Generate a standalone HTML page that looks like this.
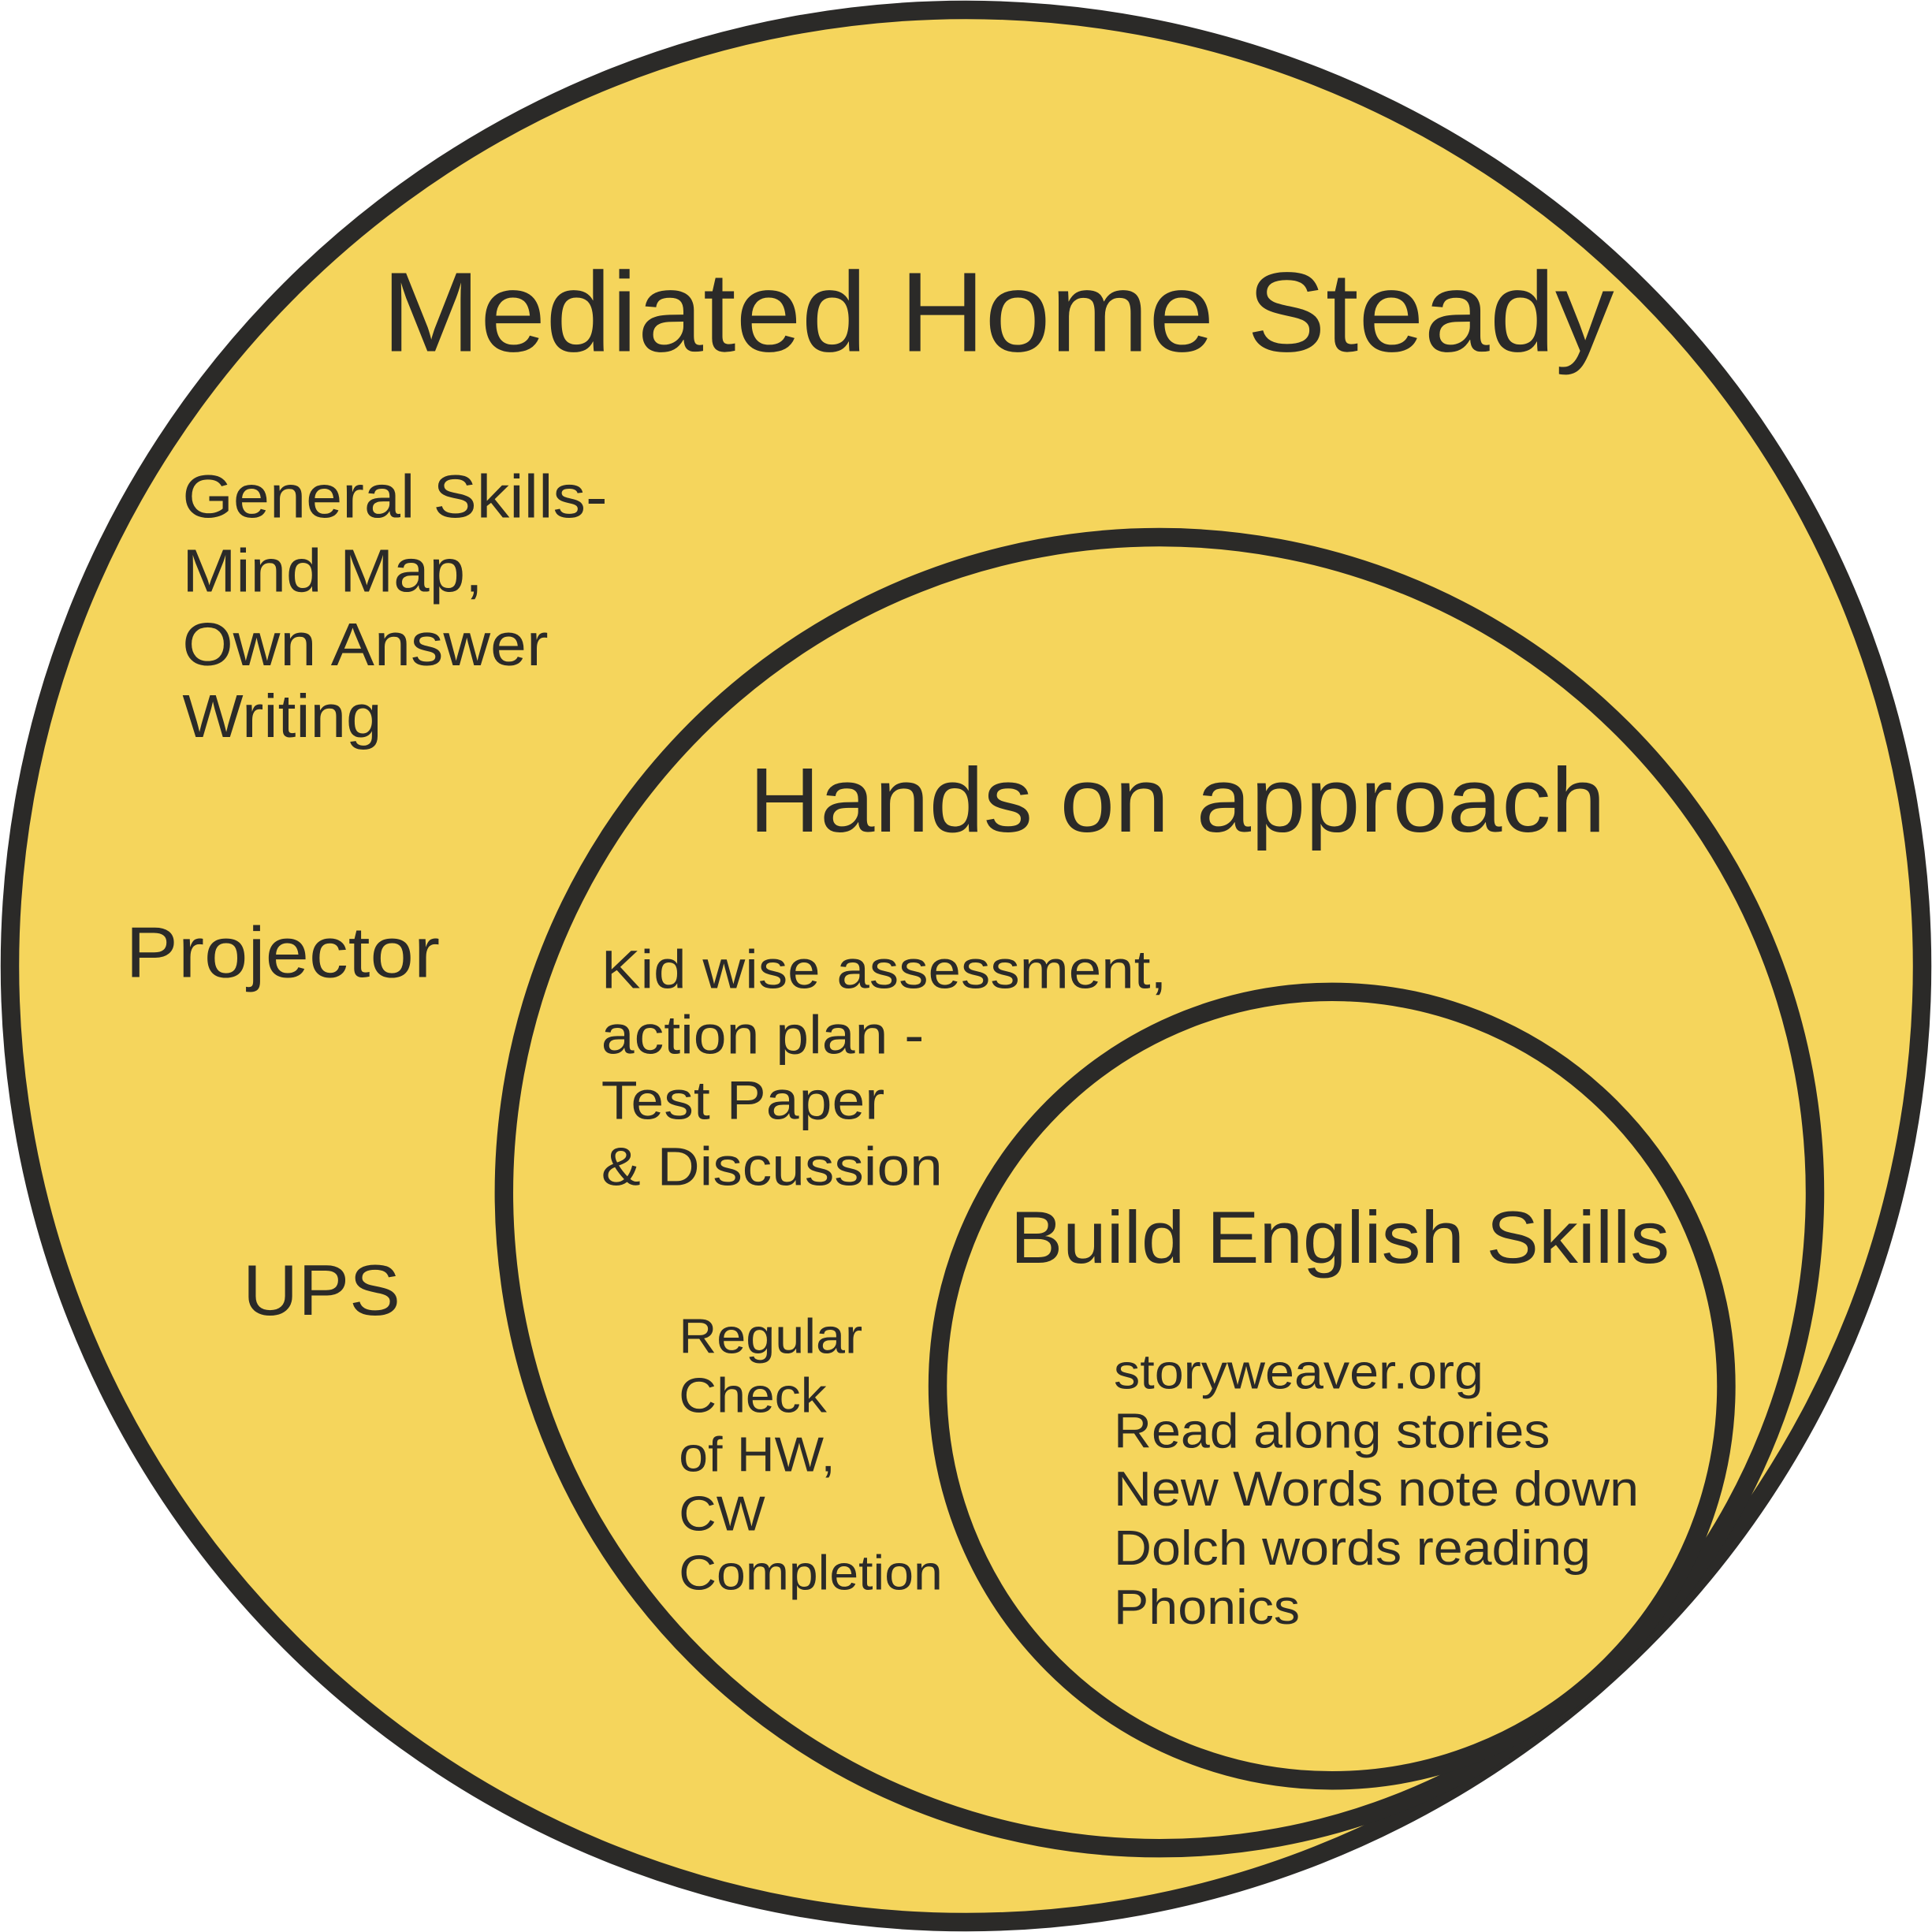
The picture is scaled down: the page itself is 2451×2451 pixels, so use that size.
<!DOCTYPE html>
<html><head><meta charset="utf-8"><style>html,body{margin:0;padding:0;background:#fff}svg{display:block}</style></head>
<body>
<svg width="2451" height="2451" viewBox="0 0 1568 1568" xmlns="http://www.w3.org/2000/svg" font-family="Liberation Sans, Arial, sans-serif" fill="#2b2a28">
<circle cx="784" cy="784" r="776" fill="#f5d55c" stroke="#2b2a28" stroke-width="15"/>
<circle cx="941" cy="968" r="532" fill="#f5d55c" stroke="#2b2a28" stroke-width="15"/>
<circle cx="1081" cy="1125" r="320" fill="#f5d55c" stroke="#2b2a28" stroke-width="15"/>
<text x="310" y="285" font-size="92" textLength="1000" lengthAdjust="spacingAndGlyphs">Mediated Home Steady</text>
<text x="608" y="675" font-size="74" textLength="695" lengthAdjust="spacingAndGlyphs">Hands on approach</text>
<text x="820" y="1025" font-size="60" textLength="535" lengthAdjust="spacingAndGlyphs">Build English Skills</text>
<g font-size="49" lengthAdjust="spacingAndGlyphs">
<text x="148" y="420" textLength="345" lengthAdjust="spacingAndGlyphs">General Skills-</text>
<text x="148" y="480" textLength="244" lengthAdjust="spacingAndGlyphs">Mind Map,</text>
<text x="148" y="540" textLength="297" lengthAdjust="spacingAndGlyphs">Own Answer</text>
<text x="148" y="598" textLength="162" lengthAdjust="spacingAndGlyphs">Writing</text>
</g>
<text x="102" y="793" font-size="58" textLength="255" lengthAdjust="spacingAndGlyphs">Projector</text>
<text x="197" y="1067" font-size="58" textLength="128" lengthAdjust="spacingAndGlyphs">UPS</text>
<g font-size="44">
<text x="488" y="802" textLength="459" lengthAdjust="spacingAndGlyphs">Kid wise assessment,</text>
<text x="488" y="855" textLength="262" lengthAdjust="spacingAndGlyphs">action plan -</text>
<text x="488" y="908" textLength="230" lengthAdjust="spacingAndGlyphs">Test Paper</text>
<text x="488" y="962" textLength="277" lengthAdjust="spacingAndGlyphs">&amp; Discussion</text>
</g>
<g font-size="40">
<text x="551" y="1098" textLength="149" lengthAdjust="spacingAndGlyphs">Regular</text>
<text x="551" y="1146" textLength="120" lengthAdjust="spacingAndGlyphs">Check</text>
<text x="551" y="1194" textLength="127" lengthAdjust="spacingAndGlyphs">of HW,</text>
<text x="551" y="1242" textLength="70" lengthAdjust="spacingAndGlyphs">CW</text>
<text x="551" y="1290" textLength="214" lengthAdjust="spacingAndGlyphs">Completion</text>
<text x="904" y="1127" textLength="300" lengthAdjust="spacingAndGlyphs">storyweaver.org</text>
<text x="904" y="1175" textLength="354" lengthAdjust="spacingAndGlyphs">Read along stories</text>
<text x="904" y="1222" textLength="426" lengthAdjust="spacingAndGlyphs">New Words note down</text>
<text x="904" y="1270" textLength="387" lengthAdjust="spacingAndGlyphs">Dolch words reading</text>
<text x="904" y="1318" textLength="151" lengthAdjust="spacingAndGlyphs">Phonics</text>
</g>
</svg>
</body></html>
